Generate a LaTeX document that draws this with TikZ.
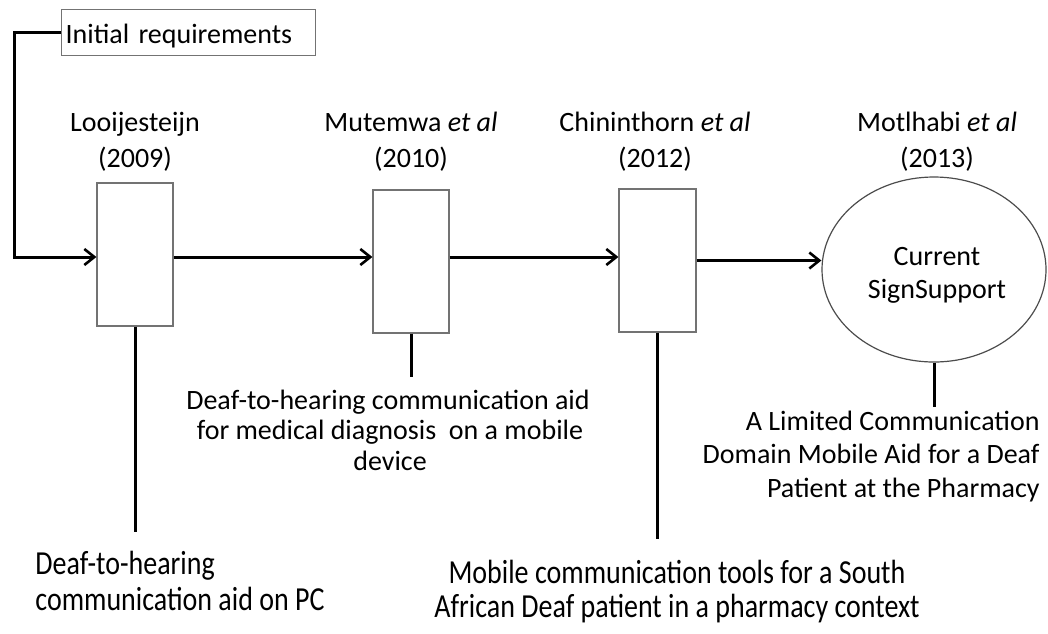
\documentclass[tikz,border=0pt]{standalone}
\usepackage{fontspec}
\setmainfont{Carlito}
\usetikzlibrary{arrows.meta,shapes.geometric}
\newcommand{\tallline}[1]{\scalebox{1}[1.2]{#1}}
\begin{document}
\begin{tikzpicture}[x=0.5pt, y=-0.5pt,
  every node/.style={font=\fontsize{14}{17}\selectfont, inner sep=0pt},
  frame/.style={draw=black!55, line width=0.6pt},
  link/.style={line width=1.5pt, black},
  arr/.style={link, -{Straight Barb[length=5pt, width=8pt, line width=1.3pt]}},
  lab/.style={anchor=base},
]
\useasboundingbox (0,0) rectangle (1048,633);

% stages
\node[frame, anchor=north west, minimum width=127pt, minimum height=23pt,
      text height=17pt, text depth=6pt, inner xsep=2pt, text width=123pt,
      align=left] (init) at (61,9) {Initial requirements};
\node[frame, minimum width=38pt, minimum height=71.5pt] (b1) at (135,254.5) {};
\node[frame, minimum width=38pt, minimum height=71.5pt] (b2) at (411,261.5) {};
\node[frame, minimum width=38.5pt, minimum height=71.5pt] (b3) at (657.5,260.5) {};
\node[draw=black!70, line width=0.6pt, ellipse, minimum width=112pt,
      minimum height=92.5pt] (ell) at (934,269.5) {};

% headings above the stages
\node[lab] (h1a) at (135,131) {Looijesteijn};
\node[lab] (h1b) at (135,167) {(2009)};
\node[lab] (h2a) at (411,131) {Mutemwa \textit{et al}};
\node[lab] (h2b) at (411,167) {(2010)};
\node[lab] (h3a) at (655,131) {Chininthorn \textit{et al}};
\node[lab] (h3b) at (655,167) {(2012)};
\node[lab] (h4a) at (937,131) {Motlhabi \textit{et al}};
\node[lab] (h4b) at (937,167) {(2013)};

% ellipse text
\node[lab] (c1) at (937,265) {Current};
\node[lab] (c2) at (937,298) {SignSupport};

% flow
\coordinate (lvl) at (0,257);
\draw[arr] (init.west) -- ++(-47,0) |- (b1.west |- lvl);
\draw[arr] (b1.east |- lvl) -- (b2.west |- lvl);
\draw[arr] (b2.east |- lvl) -- (b3.west |- lvl);
\draw[arr] (b3.east) -- (ell.west |- b3.east);

% descriptions
\coordinate (d1) at (135,532);
\coordinate (d2) at (411,377);
\coordinate (d3) at (657.5,539);
\coordinate (d4) at (934,407);
\draw[link] (b1.south) -- (d1);
\draw[link] (b2.south) -- (d2);
\draw[link] (b3.south) -- (d3);
\draw[link] (ell.south) -- (d4);

\node[lab] (m1) at (388,409) {Deaf-to-hearing communication aid};
\node[lab] (m2) at (390,439) {for medical diagnosis\ \ on a mobile};
\node[lab] (m3) at (390,470) {device};

\node[anchor=base east] (r1) at (1040,430) {A Limited Communication};
\node[anchor=base east] (r2) at (1040,463) {Domain Mobile Aid for a Deaf};
\node[anchor=base east] (r3) at (1040,497) {Patient at the Pharmacy};

\node[anchor=base west] (l1) at (35,574) {\tallline{Deaf-to-hearing}};
\node[anchor=base west] (l2) at (35,610) {\tallline{communication aid on PC}};

\node[lab] (p1) at (677,583) {\tallline{Mobile communication tools for a South}};
\node[lab] (p2) at (677,617) {\tallline{African Deaf patient in a pharmacy context}};
\end{tikzpicture}
\end{document}
